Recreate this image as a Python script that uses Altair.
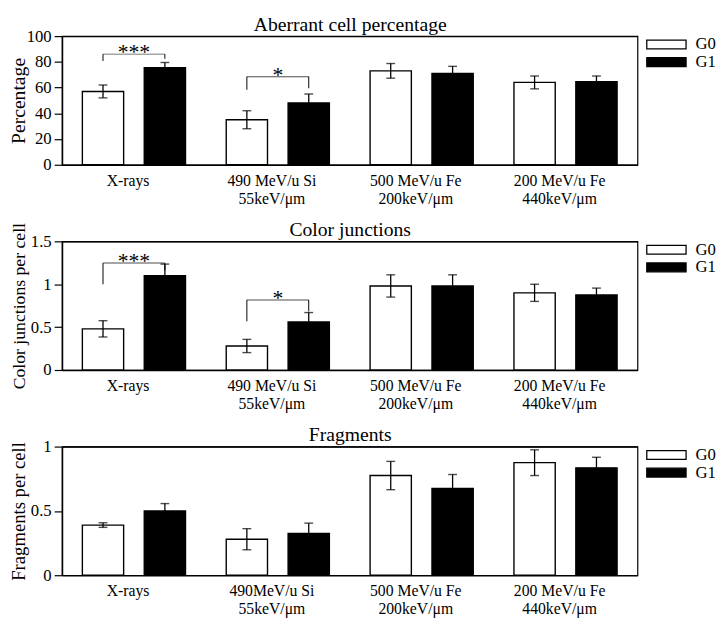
import altair as alt
import pandas as pd

FONT = "Liberation Serif"
GROUPS = ["G0", "G1"]

labels_a = ["X-rays", "490 MeV/u Si|55keV/μm", "500 MeV/u Fe|200keV/μm", "200 MeV/u Fe|440keV/μm"]
labels_f = ["X-rays", "490MeV/u Si|55keV/μm", "500 MeV/u Fe|200keV/μm", "200 MeV/u Fe|440keV/μm"]

# Aberrant cell percentage
ab_g0 = [57, 35, 73, 64]
ab_g0_err = [5, 7, 5.7, 5]
ab_g1 = [75.5, 48, 71, 64.5]
ab_g1_err = [4, 7, 5.5, 4.5]
ab_br_cat = [0, 1]
ab_br_top = [86, 68.5]
ab_br_left = [80.7, 58.3]
ab_br_right = [82.4, 59.5]
ab_br_text = ["***", "*"]

# Color junctions per cell
cj_g0 = [0.48, 0.28, 0.98, 0.90]
cj_g0_err = [0.095, 0.077, 0.13, 0.10]
cj_g1 = [1.10, 0.56, 0.98, 0.875]
cj_g1_err = [0.135, 0.11, 0.13, 0.08]
cj_br_cat = [0, 1]
cj_br_top = [1.247, 0.817]
cj_br_left = [1.0, 0.568]
cj_br_right = [1.162, 0.683]
cj_br_text = ["***", "*"]

# Fragments per cell
fr_g0 = [0.39, 0.28, 0.775, 0.875]
fr_g0_err = [0.018, 0.082, 0.11, 0.10]
fr_g1 = [0.50, 0.325, 0.675, 0.835]
fr_g1_err = [0.057, 0.08, 0.108, 0.082]


def panel(title, ytitle, ytfs, ymax, yticks, labels, g0, g0e, g1, g1e,
          br_cat=None, br_top=None, br_left=None, br_right=None, br_text=None):
    rows = []
    for i, c in enumerate(labels):
        rows.append(dict(cat=c, grp="G0", val=g0[i], lo=g0[i] - g0e[i], hi=g0[i] + g0e[i]))
        rows.append(dict(cat=c, grp="G1", val=g1[i], lo=g1[i] - g1e[i], hi=g1[i] + g1e[i]))
    df = pd.DataFrame(rows)

    xscale = alt.Scale(paddingInner=0, paddingOuter=0)
    x_bottom = alt.X("cat:N", sort=labels, title=None, scale=xscale,
                     axis=alt.Axis(labelAngle=0, ticks=False, labelPadding=8,
                                   labelExpr="split(datum.label, '|')", labelFontSize=16,
                                   labelLineHeight=18, labelOffset=-6))
    x_top = alt.X("cat:N", sort=labels, title=title, scale=xscale,
                  axis=alt.Axis(orient="top", labels=False, ticks=False, domain=True,
                                titleFontSize=20, titlePadding=2, titleFont=FONT))
    x = alt.X("cat:N", sort=labels, scale=xscale, axis=None)
    xo = alt.XOffset("grp:N", scale=alt.Scale(domain=GROUPS, paddingInner=0.333, paddingOuter=0.329))
    yscale = alt.Scale(domain=[0, ymax], nice=False)
    yaxis = alt.Axis(values=yticks, format="~r", tickSize=8, labelPadding=3,
                     labelFontSize=17, labelOverlap=False,
                     titleFontSize=ytfs, titleX=-34, titleBaseline="bottom",
                     titleAngle=270)

    def yq(field):
        return alt.Y(field, scale=yscale, axis=yaxis, title=ytitle)

    bars = alt.Chart(df).mark_bar(stroke="black", strokeWidth=1.4).encode(
        x=x_bottom, xOffset=xo,
        y=yq("val:Q"),
        color=alt.Color("grp:N", scale=alt.Scale(domain=GROUPS, range=["white", "black"]),
                        legend=alt.Legend(title=None, orient="right", offset=6,
                                          symbolType="M-1,-0.9H7V0.9H-1Z", symbolSize=100,
                                          symbolStrokeColor="black", symbolStrokeWidth=1.3,
                                          labelOffset=36, rowPadding=0, padding=0,
                                          labelFont=FONT, labelFontSize=17,
                                          labelColor="black")),
    )
    rules = alt.Chart(df).mark_rule(color="black", strokeWidth=1.3).encode(
        x=x_top, xOffset=xo, y=yq("lo:Q"), y2="hi:Q")
    cap_hi = alt.Chart(df).mark_tick(color="black", thickness=1.4, size=9, orient="horizontal").encode(
        x=x, xOffset=xo, y=yq("hi:Q"))
    cap_lo = alt.Chart(df).mark_tick(color="black", thickness=1.4, size=9, orient="horizontal").encode(
        x=x, xOffset=xo, y=yq("lo:Q"))
    layers = [bars, rules, cap_hi, cap_lo]

    if br_cat is not None:
        legs = []
        tops = []
        for j, ci in enumerate(br_cat):
            c = labels[ci]
            legs.append(dict(cat=c, grp="G0", top=br_top[j], bot=br_left[j]))
            legs.append(dict(cat=c, grp="G1", top=br_top[j], bot=br_right[j]))
            tops.append(dict(cat=c, top=br_top[j], txt=br_text[j]))
        ldf = pd.DataFrame(legs)
        tdf = pd.DataFrame(tops)
        leg = alt.Chart(ldf).mark_rule(color="black", strokeWidth=1).encode(
            x=x, xOffset=xo, y=yq("top:Q"), y2="bot:Q")
        hor = alt.Chart(tdf).mark_tick(color="black", thickness=1, size=63, orient="horizontal").encode(
            x=x, y=yq("top:Q"))
        txt = alt.Chart(tdf).mark_text(font=FONT, fontSize=22, baseline="alphabetic", dy=5,
                                       color="black").encode(
            x=x, y=yq("top:Q"), text="txt:N")
        layers += [leg, hor, txt]

    return alt.layer(*layers).resolve_axis(x="independent").properties(width=586, height=131)


p1 = panel("Aberrant cell percentage", "Percentage", 20, 100, [0, 20, 40, 60, 80, 100], labels_a,
           ab_g0, ab_g0_err, ab_g1, ab_g1_err, ab_br_cat, ab_br_top, ab_br_left, ab_br_right, ab_br_text)
p2 = panel("Color junctions", "Color junctions per cell", 18, 1.5, [0, 0.5, 1, 1.5], labels_a,
           cj_g0, cj_g0_err, cj_g1, cj_g1_err, cj_br_cat, cj_br_top, cj_br_left, cj_br_right, cj_br_text)
p3 = panel("Fragments", "Fragments per cell", 19, 1, [0, 0.5, 1], labels_f,
           fr_g0, fr_g0_err, fr_g1, fr_g1_err)

chart = alt.vconcat(p1, p2, p3, spacing=12).resolve_scale(
    color="independent").resolve_legend(color="independent").properties(
    padding={"left": 0, "top": 0, "right": 0, "bottom": 0}
).configure_view(stroke="black", strokeWidth=1.2).configure_axis(
    labelFont=FONT, titleFont=FONT,
    titleFontWeight="normal", labelColor="black", titleColor="black",
    domainColor="black", domainWidth=1.5, tickColor="black", tickWidth=1.2, grid=False
)

chart.save("out.html", embed_options={"renderer": "svg", "actions": False})
